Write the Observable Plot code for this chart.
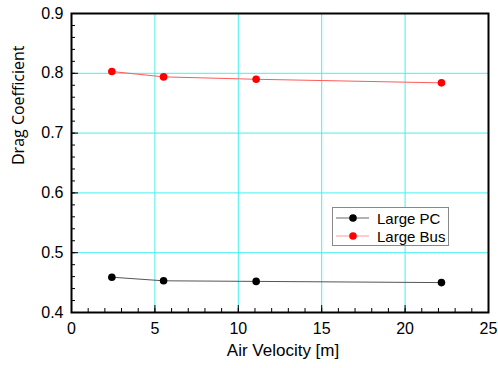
<!DOCTYPE html>
<html>
<head>
<meta charset="utf-8">
<script src="https://cdn.jsdelivr.net/npm/d3@7"></script>
<script src="https://cdn.jsdelivr.net/npm/@observablehq/plot@0.6"></script>
<style>
  body { margin: 0; background: #fff; }
  #wrap { position: relative; width: 498px; height: 368px; }
  #legend { position: absolute; left: 332px; top: 207px; width: 115px; height: 37px;
    border: 1px solid #888; background: #fff; font-family: "Liberation Sans", Arial, sans-serif; font-size: 15px; }
  .row { position: absolute; left: 0; height: 18px; display: flex; align-items: center; white-space: nowrap; }
  .row svg { display: block; flex: none; }
  .row span { margin-left: 6px; color: #000; white-space: nowrap; }
</style>
</head>
<body>
<div id="wrap"></div>
<script>
const velocity = [2.42, 5.52, 11.07, 22.18];
const largePC = [0.459, 0.453, 0.452, 0.450];
const largeBus = [0.803, 0.794, 0.790, 0.784];
const seriesNames = ["Large PC", "Large Bus"];
const seriesColors = {"Large PC": "#000000", "Large Bus": "#ff0000"};
const lineColors = {"Large PC": "#555555", "Large Bus": "#ff5a5a"};
const xTicks = [0, 5, 10, 15, 20, 25];
const yTicks = [0.4, 0.5, 0.6, 0.7, 0.8, 0.9];
const xGrid = [5, 10, 15, 20];
const yGrid = [0.5, 0.6, 0.7, 0.8];
const xMinor = d3.range(0, 26, 1);
const yMinor = d3.range(0, 26).map(i => +(0.4 + i * 0.02).toFixed(2));

const data = [];
velocity.forEach((v, i) => data.push({series: "Large PC", x: v, y: largePC[i]}));
velocity.forEach((v, i) => data.push({series: "Large Bus", x: v, y: largeBus[i]}));

const tickFont = "'Liberation Sans', Arial, sans-serif";
const chart = Plot.plot({
  width: 498, height: 368,
  marginLeft: 71, marginRight: 10, marginTop: 13, marginBottom: 56,
  style: {background: "#fff", fontFamily: tickFont, color: "#000"},
  x: {domain: [0, 25]},
  y: {domain: [0.4, 0.9]},
  marks: [
    Plot.ruleX(xGrid, {stroke: "#44f0f0", strokeWidth: 1}),
    Plot.ruleY(yGrid, {stroke: "#44f0f0", strokeWidth: 1}),
    Plot.axisX({ticks: xMinor, tickSize: -4, text: null, label: null, stroke: "#000"}),
    Plot.axisX({ticks: xTicks, tickSize: -7, tickPadding: 17, fontSize: 16, tickFormat: d => String(d), label: null, stroke: "#000"}),
    Plot.axisY({ticks: yMinor, tickSize: -4, text: null, label: null, stroke: "#000"}),
    Plot.axisY({ticks: yTicks, tickSize: -7, tickPadding: 15, fontSize: 16, tickFormat: d => d.toFixed(1), label: null, stroke: "#000"}),
    Plot.line(data, {x: "x", y: "y", z: "series", stroke: d => lineColors[d.series], strokeWidth: 1}),
    Plot.dot(data, {x: "x", y: "y", fill: d => seriesColors[d.series], r: 3.8}),
    Plot.frame({stroke: "#000", strokeWidth: 2}),
    Plot.text(["Drag Coefficient"], {frameAnchor: "left", dx: -53, dy: 2, rotate: -90, fontSize: 16, fontFamily: "'Open Sans', sans-serif", fill: "#000"}),
    Plot.text(["Air Velocity [m]"], {frameAnchor: "bottom", dx: 3, dy: 43, fontSize: 17, fontFamily: tickFont, fill: "#000"})
  ]
});
const wrap = document.getElementById("wrap");
wrap.appendChild(chart);

const legend = document.createElement("div");
legend.id = "legend";
seriesNames.forEach((name, i) => {
  const row = document.createElement("div");
  row.className = "row";
  row.style.top = (1 + i * 18) + "px";
  row.innerHTML = `<svg width="38" height="18"><line x1="3" x2="36" y1="9" y2="9" stroke="${name === "Large PC" ? "#666" : "#ff9a9a"}" stroke-width="1"/><circle cx="20" cy="9" r="3.8" fill="${seriesColors[name]}"/></svg><span>${name}</span>`;
  legend.appendChild(row);
});
wrap.appendChild(legend);
</script>
</body>
</html>
